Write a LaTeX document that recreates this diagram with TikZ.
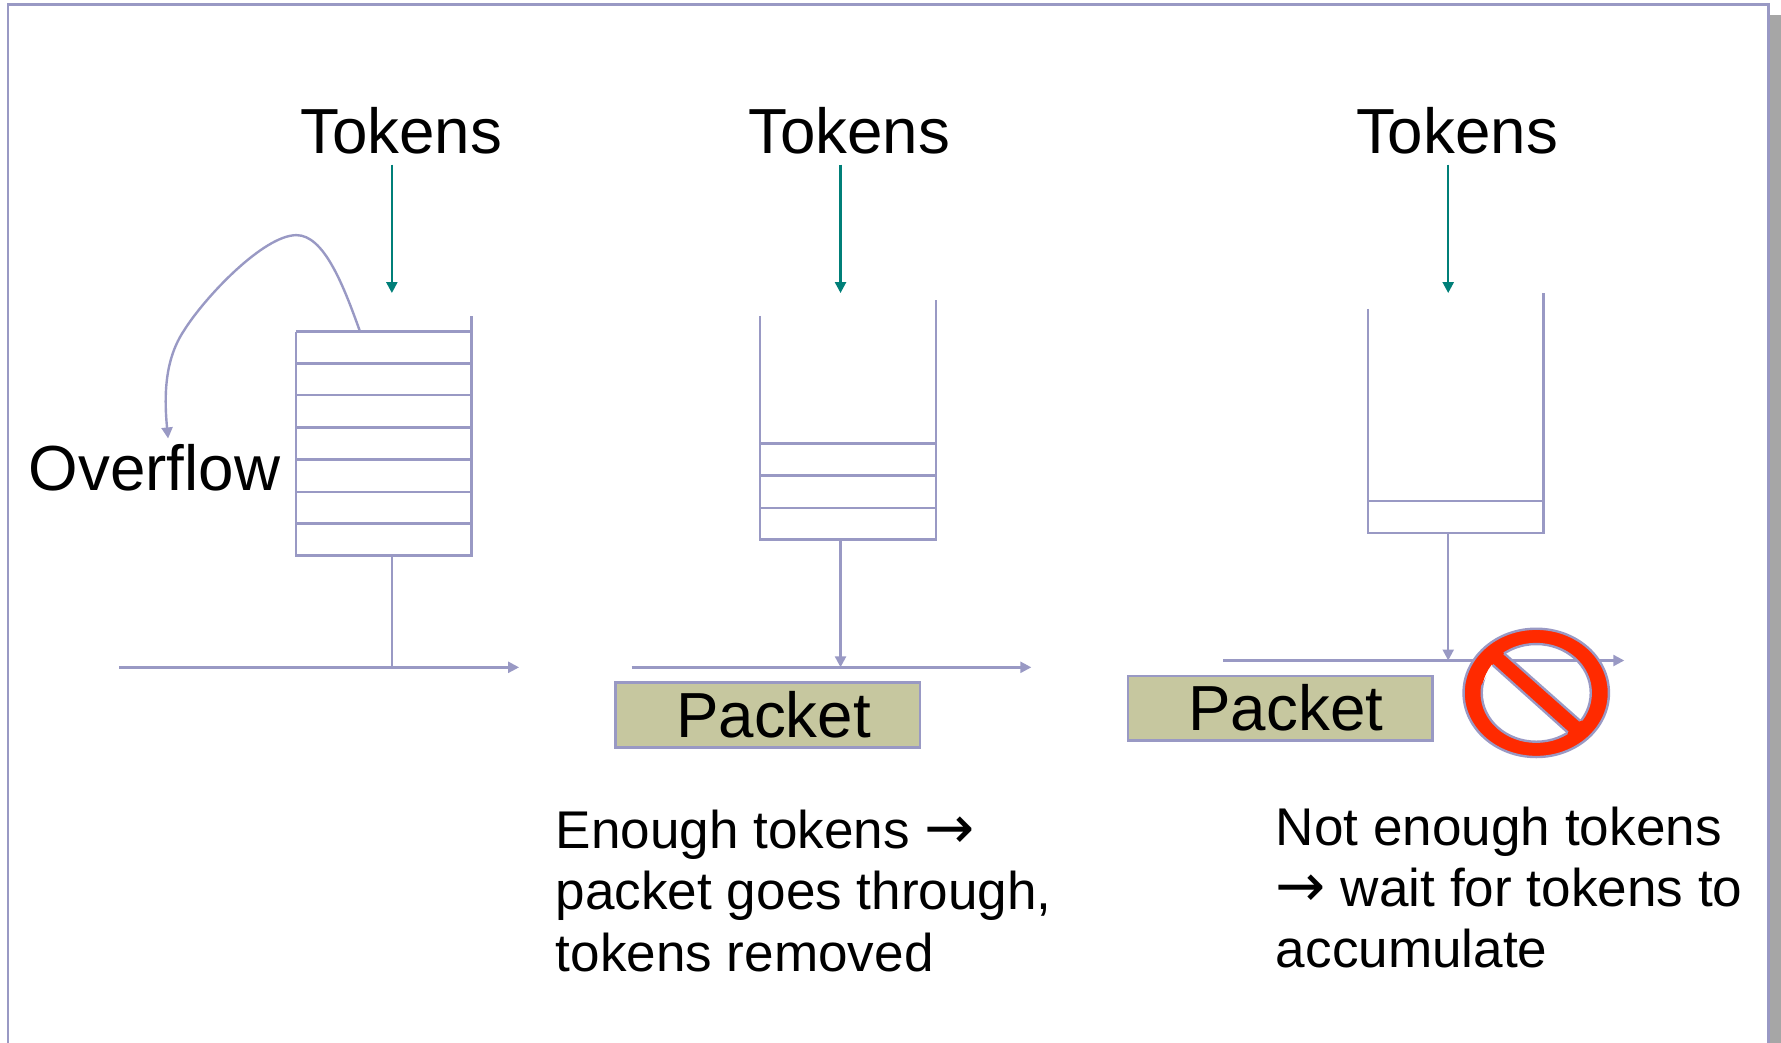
\documentclass[tikz,border=0pt]{standalone}
\usepackage{fontspec}
\setmainfont{Liberation Sans}
\newfontfamily\arrowfont{DejaVu Sans}
\usetikzlibrary{arrows.meta}
\definecolor{linec}{HTML}{9999C4}
\definecolor{tealc}{HTML}{007F78}
\definecolor{packetc}{HTML}{C6C79F}
\definecolor{stopred}{HTML}{FF2A00}
\definecolor{shadowc}{HTML}{A6A6A6}
\newcommand{\bigarrow}{{\arrowfont\fontsize{30}{30.6}\selectfont →}}
\tikzset{
  wall/.style={draw=linec,line width=1.2pt},
  flow/.style={draw=linec,line width=1.2pt,-{Triangle[length=5.5pt,width=5.5pt]}},
  tokenflow/.style={draw=tealc,line width=1.2pt,-{Triangle[length=5.5pt,width=5.5pt]}},
  biglabel/.style={inner sep=0pt,anchor=base west,font=\fontsize{31.85}{36}\selectfont},
  bodylabel/.style={inner sep=0pt,anchor=base west,font=\fontsize{26.55}{30.6}\selectfont,align=left},
  packetbox/.style={draw=linec,line width=1.2pt,fill=packetc,inner sep=0pt,minimum width=152.2pt,minimum height=32.4pt,font=\fontsize{31.85}{36}\selectfont},
}
\begin{document}
\begin{tikzpicture}[x=0.5679pt,y=-0.5679pt,line join=miter]
\useasboundingbox (0,0) rectangle (1568,918);
% slide frame and shadow
\fill[shadowc] (1558,13) rectangle (1568,918);
\draw[wall] (7,918) -- (7,4) -- (1557,4) -- (1557,918);
% labels
\node[biglabel] (t1) at (264,135) {Tokens};
\node[biglabel] (t2) at (658.5,135) {Tokens};
\node[biglabel] (t3) at (1193.5,135) {Tokens};
\node[biglabel] (ov) at (25,432) {Overflow};
% coordinates
\coordinate (t1s) at (345,145); \coordinate (t1e) at (345,258);
\coordinate (t2s) at (740,145); \coordinate (t2e) at (740,258);
\coordinate (t3s) at (1275,145); \coordinate (t3e) at (1275,258);
\draw[tokenflow] (t1s) -- (t1e);
\draw[tokenflow] (t2s) -- (t2e);
\draw[tokenflow] (t3s) -- (t3e);
% bucket 1
\draw[wall] (260.5,292) -- (260.5,489) -- (415,489) -- (415,278);
\foreach \yy in {292,320,348,376.5,404.5,433,461}{\draw[wall] (260.5,\yy) -- (415,\yy);}
\coordinate (b1o) at (345,489); \coordinate (a1m) at (345,587.5);
\coordinate (a1s) at (105,587.5); \coordinate (a1e) at (457,587.5);
\draw[wall] (b1o) -- (a1m);
\draw[flow] (a1s) -- (a1e);
\coordinate (ovs) at (317,292); \coordinate (ovt) at (148,386);
\draw[flow] (ovs) .. controls (302,250) and (285,207) .. (261,207)
  .. controls (232,207) and (180,262) .. (162,291)
  .. controls (146,315) and (144,345) .. (ovt);
% bucket 2
\draw[wall] (669,278) -- (669,475) -- (824,475) -- (824,264);
\foreach \yy in {390.5,418.5,447}{\draw[wall] (669,\yy) -- (824,\yy);}
\coordinate (b2o) at (740,475); \coordinate (a2m) at (740,587.5);
\coordinate (a2s) at (556,587.5); \coordinate (a2e) at (908,587.5);
\draw[flow] (b2o) -- (a2m);
\draw[flow] (a2s) -- (a2e);
\node[packetbox] (p1) at (676,629.5) {\hspace{5.7pt}Packet};
\node[bodylabel] (d1) at (489,855) {Enough tokens \bigarrow\\packet goes through,\\tokens removed};
% bucket 3
\draw[wall] (1204.5,272) -- (1204.5,469) -- (1359,469) -- (1359,258);
\draw[wall] (1204.5,441) -- (1359,441);
\coordinate (b3o) at (1275,469); \coordinate (a3m) at (1275,581.5);
\coordinate (a3s) at (1077,581.5); \coordinate (a3e) at (1430,581.5);
\draw[flow] (b3o) -- (a3m);
\draw[flow] (a3s) -- (a3e);
\node[packetbox] (p2) at (1127,623.5) {\hspace{5.7pt}Packet};
\node[bodylabel] (d2) at (1123,852) {Not enough tokens\\\bigarrow{} wait for tokens to\\accumulate};
% no-entry sign
\coordinate (sg) at (1352.5,610);
\fill[stopred,even odd rule] (sg) ellipse [x radius=64,y radius=56.5] (sg) ellipse [x radius=48,y radius=43];
\fill[stopred] (1320.2,571.6) -- (1395.1,638.1) -- (1384.2,648.4) -- (1310.2,581.9) -- cycle;
\draw[wall] (sg) ellipse [x radius=64,y radius=56.5];
\begin{scope}
\clip (1324.2,575.2) -- (1391.1,634.5) -- (1500,634.5) -- (1500,500) -- (1250,500) -- cycle;
\draw[wall] (sg) ellipse [x radius=48,y radius=43];
\end{scope}
\begin{scope}
\clip (1314.2,585.5) -- (1380.2,644.8) -- (1380.2,700) -- (1250,700) -- cycle;
\draw[wall] (sg) ellipse [x radius=48,y radius=43];
\end{scope}
\draw[wall] (1324.2,575.2) -- (1391.1,634.5);
\draw[wall] (1314.2,585.5) -- (1380.2,644.8);
\end{tikzpicture}
\end{document}
